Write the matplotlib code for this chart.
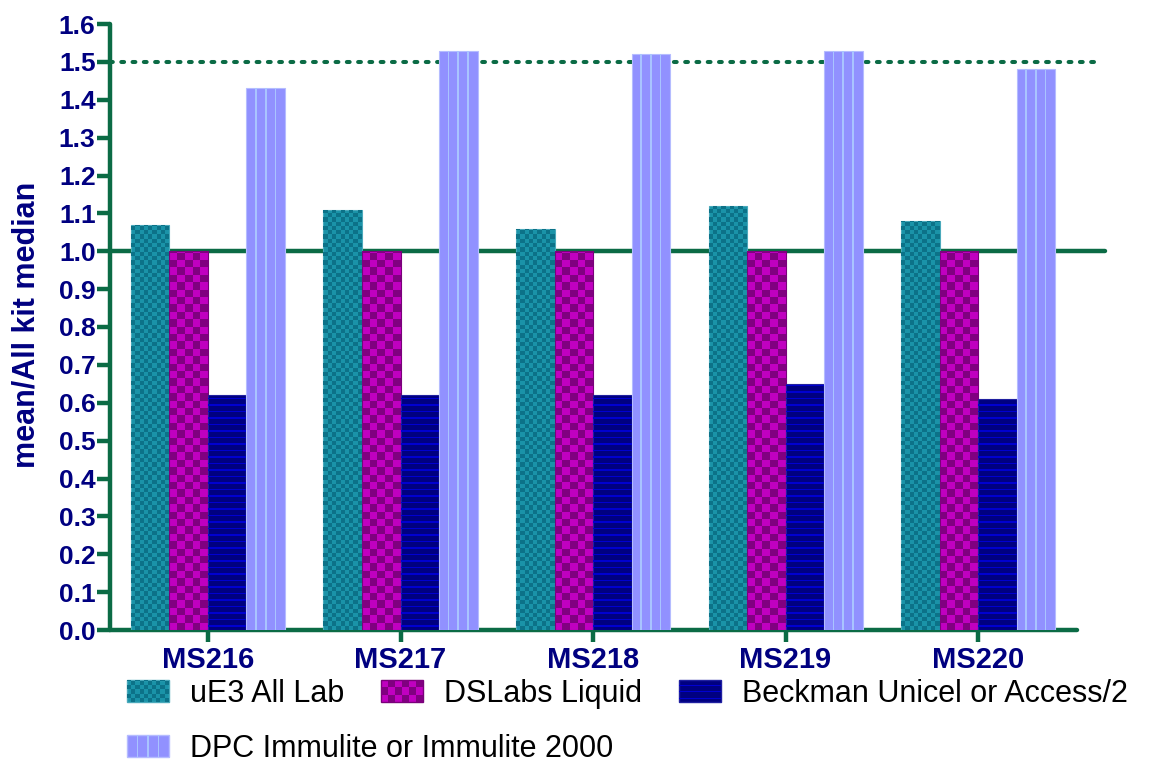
import numpy as np
import matplotlib
matplotlib.use('Agg')
import matplotlib.pyplot as plt
from matplotlib.patches import Rectangle
from matplotlib.collections import PatchCollection
from matplotlib.legend_handler import HandlerBase

plt.rcParams['font.family'] = ['Liberation Sans', 'DejaVu Sans']

categories = ['MS216', 'MS217', 'MS218', 'MS219', 'MS220']
series = ['uE3 All Lab', 'DSLabs Liquid', 'Beckman Unicel or Access/2',
          'DPC Immulite or Immulite 2000']
ue3 = [1.07, 1.11, 1.06, 1.12, 1.08]
dslabs = [1.00, 1.00, 1.00, 1.00, 1.00]
beckman = [0.62, 0.62, 0.62, 0.65, 0.61]
dpc = [1.43, 1.53, 1.52, 1.53, 1.48]
yticks = [0.0, 0.1, 0.2, 0.3, 0.4, 0.5, 0.6, 0.7, 0.8, 0.9,
          1.0, 1.1, 1.2, 1.3, 1.4, 1.5, 1.6]
ref_solid = 1.0
ref_dashed = 1.5

GREEN = '#0b6b45'
NAVY = '#000080'

# base colour, fill pattern, pattern colour, edge colour
styles = [
    dict(base='#1a93a8', kind='checker', cell=4.3, ink='#0c7288', edge='#4aa9bb'),
    dict(base='#c000c0', kind='checker', cell=7.4, ink='#800080', edge='#7a007a'),
    dict(base='#000080', kind='hlines', cell=6.5, ink='#0000d0', edge='#2020a0'),
    dict(base='#9191ff', kind='vlines', cell=0, ink='#a9c4ff', edge='#b5bcff'),
]


"""
    Small rectangles that make up the fill pattern of one box.
    sx, sy = size of one pixel in the units of x0/w and y0/h
"""
def pattern_patches(st, x0, y0, w, h, sx, sy):
    out = []
    if st['kind'] == 'checker':
        ncol = max(1, int(round(w / (st['cell'] * sx))))
        cw = w / ncol
        ch = st['cell'] * sy
        nrow = int(np.ceil(h / ch - 1e-9))
        for r in range(nrow):
            hh = min(ch, h - r * ch)
            for c in range(ncol):
                if (r + c) % 2:
                    out.append(Rectangle((x0 + c * cw, y0 + r * ch), cw, hh))
    elif st['kind'] == 'hlines':
        step = st['cell'] * sy
        y = y0 + step / 2
        while y + 1.2 * sy < y0 + h:
            out.append(Rectangle((x0, y), w, 1.3 * sy))
            y += step
    else:
        for f in (0.25, 0.5, 0.75):
            out.append(Rectangle((x0 + f * w - 0.8 * sx, y0), 1.6 * sx, h))
    return out


class PatternHandler(HandlerBase):
    def __init__(self, st):
        super().__init__()
        self.st = st

    def create_artists(self, legend, orig_handle, xdescent, ydescent,
                       width, height, fontsize, trans):
        x0, y0 = -xdescent, -ydescent
        base = Rectangle((x0, y0), width, height, facecolor=self.st['base'],
                         edgecolor=self.st['edge'], lw=1, transform=trans)
        pc = PatchCollection(pattern_patches(self.st, x0, y0, width, height, 0.72, 0.72),
                             facecolor=self.st['ink'], lw=0, transform=trans)
        return [base, pc]


W, H = 1154, 764
fig = plt.figure(figsize=(W / 100, H / 100), dpi=100)
ax = fig.add_axes([110 / W, 134 / H, 967 / W, 606 / H])

x = np.arange(len(categories))
bw = 0.2
xlim = (-0.509, 4.514)
ylim = (0.0, 1.6)
ax.set_xlim(*xlim)
ax.set_ylim(*ylim)

# one pixel in data units
sx = (xlim[1] - xlim[0]) / 967
sy = (ylim[1] - ylim[0]) / 606

values = [ue3, dslabs, beckman, dpc]
for i, (vals, st) in enumerate(zip(values, styles)):
    bars = ax.bar(x + (i - 1.5) * bw, vals, bw, color=st['base'],
                  edgecolor=st['edge'], lw=0.8, zorder=3)
    pats = []
    for b in bars:
        pats += pattern_patches(st, b.get_x(), b.get_y(), b.get_width(),
                                b.get_height(), sx, sy)
    ax.add_collection(PatchCollection(pats, facecolor=st['ink'], lw=0, zorder=3.5))

# reference lines, they run a bit past the end of the x axis
ax.plot([xlim[0], 4.66], [ref_solid, ref_solid], color=GREEN, lw=3.2,
        solid_capstyle='round', clip_on=False, zorder=2)
ax.plot([xlim[0], 4.62], [ref_dashed, ref_dashed], color=GREEN, lw=2.9,
        linestyle=(0, (0.7, 2.1)), dash_capstyle='round', clip_on=False, zorder=2)

for s in ['top', 'right']:
    ax.spines[s].set_visible(False)
for s in ['left', 'bottom']:
    ax.spines[s].set_color(GREEN)
    ax.spines[s].set_linewidth(3.2)
    ax.spines[s].set_capstyle('round')

ax.set_yticks(yticks)
ax.set_yticklabels(['%.1f' % v for v in yticks])
ax.set_xticks(x)
ax.set_xticklabels(categories)
ax.tick_params(axis='y', length=9.4, width=3.2, color=GREEN, pad=1,
               labelsize=19, labelcolor=NAVY)
ax.tick_params(axis='x', length=8.6, width=3.2, color=GREEN, pad=3,
               labelsize=21, labelcolor=NAVY)
for t in ax.get_xticklabels() + ax.get_yticklabels():
    t.set_fontweight('bold')

ax.set_ylabel('mean/All kit median', fontsize=22, fontweight='bold', color=NAVY)
ax.yaxis.set_label_coords(-0.071, 0.503)

proxies = [Rectangle((0, 0), 1, 1) for _ in series]
hmap = {p: PatternHandler(st) for p, st in zip(proxies, styles)}
leg_kw = dict(frameon=False, fontsize=22, handlelength=1.37, handleheight=0.72,
              handletextpad=0.69, columnspacing=1.21, borderpad=0,
              borderaxespad=0, loc='center left', handler_map=hmap)
leg1 = fig.legend(proxies[:3], series[:3], ncol=3,
                  bbox_to_anchor=(127 / W, 1 - 694 / H), **leg_kw)
leg2 = fig.legend(proxies[3:], series[3:], ncol=1,
                  bbox_to_anchor=(127 / W, 1 - 749 / H), **leg_kw)

fig.savefig('out.png', dpi=100)
